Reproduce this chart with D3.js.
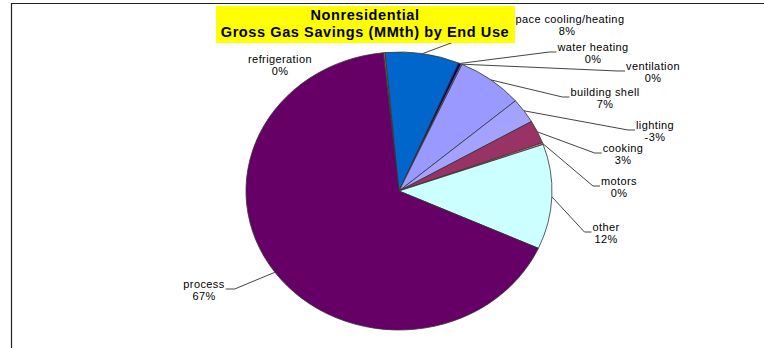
<!DOCTYPE html>
<html>
<head>
<meta charset="utf-8">
<script src="https://cdn.jsdelivr.net/npm/d3@7"></script>
<style>
  body { margin: 0; background: #fff; }
  svg text { font-family: "Liberation Sans", Arial, sans-serif; }
</style>
</head>
<body>
<script>
// share of gross gas savings by end use (percent), clockwise from the top
var categories = ["refrigeration", "space cooling/heating", "water heating", "ventilation",
    "building shell", "lighting", "cooking", "motors", "other", "process"];
var savings = [0.2, 7.8, 0.3, 0.1, 7.0, -2.9, 2.7, 0.2, 12.2, 66.6];
var sliceColors = ["#c0504d", "#0066cc", "#000080", "#ffffcc", "#9999ff",
    "#a3a3ff", "#993366", "#ff8080", "#ccffff", "#660066"];
var titleLines = ["Nonresidential", "Gross Gas Savings (MMth) by End Use"];

// label placement (centre x, first baseline) and whether a leader line is drawn
var labelPos = [[280, 63], [567, 23], [593, 51], [653, 70], [605, 96],
    [655, 129], [623, 152], [619, 185], [606, 231], [204, 288]];
var leaderOn = [false, true, true, true, true, true, true, true, true, true];

var w = 764, h = 348;
var cx = 399, cy = 191;
var ry = 139, rx = 153;
var startA = -5.9 * Math.PI / 180;

var svg = d3.select("body").append("svg")
    .attr("width", w)
    .attr("height", h);

// frame
svg.append("path")
    .attr("d", "M11.5," + h + "V3.5H" + w)
    .attr("fill", "none")
    .attr("stroke", "#222")
    .attr("stroke-width", 1.2);

var total = d3.sum(savings, function(d) { return Math.abs(d); });

var pie = d3.pie()
    .sort(null)
    .value(function(d) { return Math.abs(d); })
    .startAngle(startA)
    .endAngle(startA + 2 * Math.PI);

var arcs = pie(savings);

var arc = d3.arc().innerRadius(0).outerRadius(ry);

var g = svg.append("g")
    .attr("transform", "translate(" + cx + "," + cy + ") scale(" + (rx / ry) + ",1)");

g.selectAll("path")
    .data(arcs)
    .enter()
    .append("path")
    .attr("d", arc)
    .attr("fill", function(d, i) { return sliceColors[i]; })
    .attr("stroke", "#333")
    .attr("stroke-width", 0.8)
    .attr("vector-effect", "non-scaling-stroke");

function edgePoint(a) {
    return [cx + rx * Math.sin(a), cy - ry * Math.cos(a)];
}

var labels = svg.append("g");

arcs.forEach(function(d, i) {
    var p = labelPos[i];
    var pct = Math.round(savings[i] / total * 100) + "%";
    var t = labels.append("text")
        .attr("text-anchor", "middle")
        .attr("font-size", "11px")
        .attr("letter-spacing", "0.4px")
        .attr("fill", "#000");
    t.append("tspan").attr("x", p[0]).attr("y", p[1]).text(categories[i]);
    t.append("tspan").attr("x", p[0]).attr("y", p[1] + 11.5).text(pct);

    if (!leaderOn[i]) return;
    var halfW = t.select("tspan").node().getComputedTextLength() / 2;
    var mid = (d.startAngle + d.endAngle) / 2;
    var s = edgePoint(mid);
    var left = s[0] > p[0];
    var ex = left ? p[0] + halfW + 1 : p[0] - halfW - 1;
    var ey = p[1] + 1;
    var kx = left ? ex + 9 : ex - 7;
    labels.append("path")
        .attr("d", "M" + s[0] + "," + s[1] + "L" + kx + "," + ey + "L" + ex + "," + ey)
        .attr("fill", "none")
        .attr("stroke", "#444")
        .attr("stroke-width", 1);
});

// title box sits on top of the nearest label
var title = svg.append("g");
title.append("rect")
    .attr("x", 216).attr("y", 6)
    .attr("width", 299).attr("height", 37)
    .attr("fill", "#ffff00");
title.selectAll("text")
    .data(titleLines)
    .enter()
    .append("text")
    .attr("x", 365)
    .attr("y", function(d, i) { return 19.5 + i * 17; })
    .attr("text-anchor", "middle")
    .attr("font-size", "14.5px")
    .attr("letter-spacing", "0.6px")
    .attr("font-weight", "bold")
    .attr("fill", "#000")
    .text(function(d) { return d; });
</script>
</body>
</html>
